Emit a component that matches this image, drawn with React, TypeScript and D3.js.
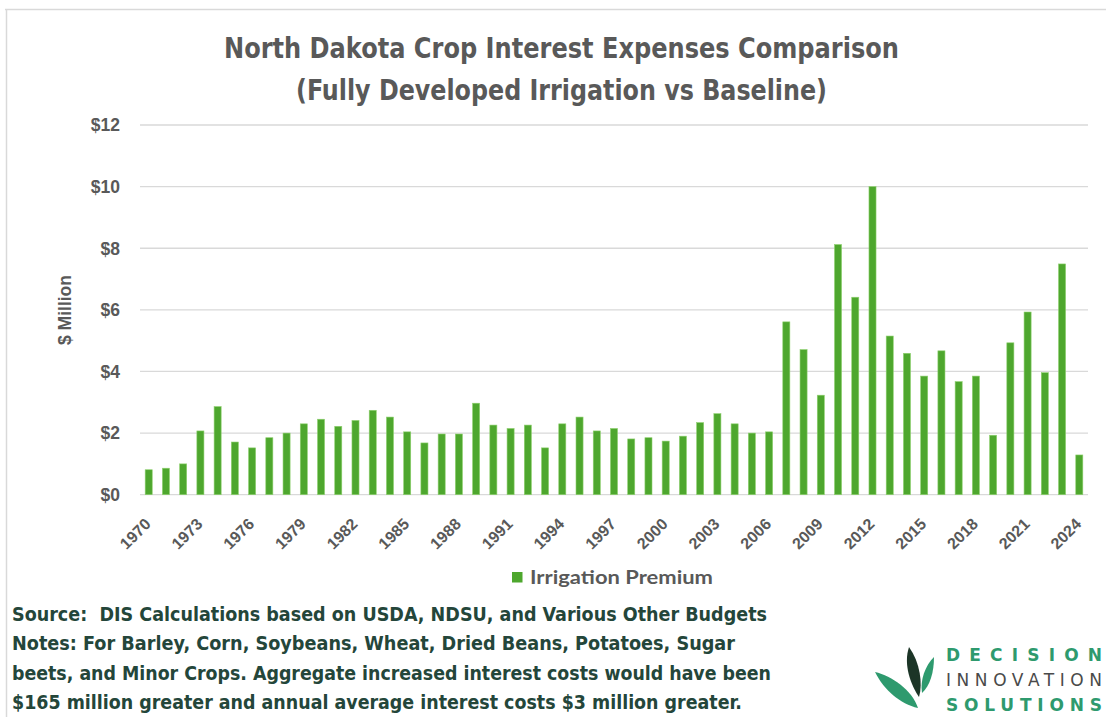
import React from "react";
import * as d3 from "d3";

const years: number[] = d3.range(1970, 2025);
const premium: number[] = [
  0.81, 0.86, 1.0, 2.07, 2.86, 1.71, 1.52, 1.85, 2.0, 2.3,
  2.45, 2.22, 2.41, 2.74, 2.52, 2.04, 1.68, 1.97, 1.97, 2.97,
  2.26, 2.15, 2.26, 1.52, 2.3, 2.52, 2.07, 2.15, 1.81, 1.85,
  1.74, 1.9, 2.34, 2.63, 2.3, 2.0, 2.04, 5.61, 4.71, 3.23,
  8.12, 6.41, 10.0, 5.15, 4.59, 3.85, 4.67, 3.67, 3.85, 1.93,
  4.93, 5.93, 3.96, 7.49, 1.29,
];
const yTicks: number[] = [0, 2, 4, 6, 8, 10, 12];
const xTickYears: number[] = d3.range(1970, 2025, 3);
const titleLines: string[] = [
  "North Dakota Crop Interest Expenses Comparison",
  "(Fully Developed Irrigation vs Baseline)",
];
const seriesName = "Irrigation Premium";
const yAxisTitle = "$ Million";
const footerLines: string[] = [
  "Source:  DIS Calculations based on USDA, NDSU, and Various Other Budgets",
  "Notes: For Barley, Corn, Soybeans, Wheat, Dried Beans, Potatoes, Sugar",
  "beets, and Minor Crops. Aggregate increased interest costs would have been",
  "$165 million greater and annual average interest costs $3 million greater.",
];
const logoWords: string[] = ["DECISION", "INNOVATION", "SOLUTIONS"];

const W = 1106;
const H = 717;
const plot = { left: 140, right: 1088, top: 125, bottom: 494.7 };
const GREEN = "#4EA72E";
const GRAY = "#595959";
const NARROW = "'Liberation Sans Narrow', 'DejaVu Sans Condensed', 'Roboto', sans-serif";
const ARIAL = "'Liberation Sans', Arial, sans-serif";

export default function App() {
  const x = d3
    .scaleBand<number>()
    .domain(years)
    .range([plot.left, plot.right])
    .paddingInner(0.59)
    .paddingOuter(0.3);
  const y = d3.scaleLinear().domain([0, 12]).range([plot.bottom, plot.top]);
  const bw = x.bandwidth();

  const titleWidths = [675, 531];
  const titleX = [224, 296];
  const titleY = [58, 100];
  const footerWidths = [755, 723, 759, 730];
  const footerY = [621, 650, 680, 709];
  const logoY = [661, 686, 711];

  return (
    <svg
      width={W}
      height={H}
      style={{ position: "absolute", left: 0, top: 0, background: "#fff" }}
    >
      {/* frame */}
      <line x1={5} x2={W} y1={9.5} y2={9.5} stroke="#d9d9d9" strokeWidth={1.5} />
      <line x1={6.5} x2={6.5} y1={9} y2={H} stroke="#d9d9d9" strokeWidth={1.5} />

      {/* title */}
      {titleLines.map((t, i) => (
        <text
          key={t}
          x={titleX[i]}
          y={titleY[i]}
          fontFamily={NARROW}
          fontWeight="bold"
          fontSize={28}
          fill={GRAY}
          textLength={titleWidths[i]}
          lengthAdjust="spacingAndGlyphs"
        >
          {t}
        </text>
      ))}

      {/* gridlines */}
      {yTicks.map((v) => (
        <line
          key={v}
          x1={plot.left}
          x2={plot.right}
          y1={y(v)}
          y2={y(v)}
          stroke="#d9d9d9"
          strokeWidth={1.3}
        />
      ))}

      {/* y tick labels */}
      {yTicks.map((v) => (
        <text
          key={"yl" + v}
          x={120}
          y={y(v)}
          dy="0.36em"
          textAnchor="end"
          fontFamily={ARIAL}
          fontWeight="bold"
          fontSize={17.5}
          fill={GRAY}
        >
          {"$" + v}
        </text>
      ))}

      {/* y axis title */}
      <text
        transform={`translate(65, 310) rotate(-90)`}
        dy="0.36em"
        textAnchor="middle"
        fontFamily={ARIAL}
        fontWeight="bold"
        fontSize={17.5}
        fill={GRAY}
      >
        {yAxisTitle}
      </text>

      {/* bars */}
      {years.map((yr, i) => (
        <rect
          key={yr}
          x={x(yr)!}
          y={y(premium[i])}
          width={bw}
          height={y(0) - y(premium[i])}
          fill={GREEN}
          stroke="#8fd16f"
          strokeWidth={0.6}
        />
      ))}

      {/* x tick labels */}
      {xTickYears.map((yr) => {
        const cx = x(yr)! + bw / 2 - 1;
        const cy = 521;
        return (
          <text
            key={"xl" + yr}
            transform={`translate(${cx}, ${cy}) rotate(-45)`}
            textAnchor="end"
            dy="0.36em"
            fontFamily={ARIAL}
            fontWeight="bold"
            fontSize={16}
            fill={GRAY}
          >
            {yr}
          </text>
        );
      })}

      {/* legend */}
      <rect x={512} y={572} width={10.5} height={10.5} fill={GREEN} />
      <text
        x={530}
        y={583.5}
        fontFamily="Lato, 'Open Sans', sans-serif"
        fontWeight="bold"
        fontSize={18}
        fill={GRAY}
        textLength={183}
        lengthAdjust="spacingAndGlyphs"
      >
        {seriesName}
      </text>

      {/* footer */}
      {footerLines.map((t, i) => (
        <text
          key={t}
          x={12}
          y={footerY[i]}
          fontFamily={NARROW}
          fontWeight="bold"
          fontSize={20}
          fill="#24463a"
          textLength={footerWidths[i]}
          lengthAdjust="spacingAndGlyphs"
          style={{ whiteSpace: "pre" }}
        >
          {t}
        </text>
      ))}

      {/* logo */}
      <g>
        <path d="M875,672 C892,676 912,690 918,708 C900,704 884,690 875,672 Z" fill="#2e9a6e" />
        <path d="M909,647 C920,662 923,684 919,697 C911,685 903,665 909,647 Z" fill="#1c3527" />
        <path d="M934,657 C934,672 930,686 922,693 C920,680 925,666 934,657 Z" fill="#2e9a6e" />
        {logoWords.map((w, i) => (
          <text
            key={w}
            x={946}
            y={logoY[i]}
            fontFamily="'DejaVu Sans', sans-serif"
            fontWeight={i === 1 ? "normal" : "bold"}
            fontSize={17}
            fill={i === 1 ? "#4a4a4a" : "#2e9a6e"}
            textLength={156}
            lengthAdjust="spacing"
          >
            {w}
          </text>
        ))}
      </g>
    </svg>
  );
}
